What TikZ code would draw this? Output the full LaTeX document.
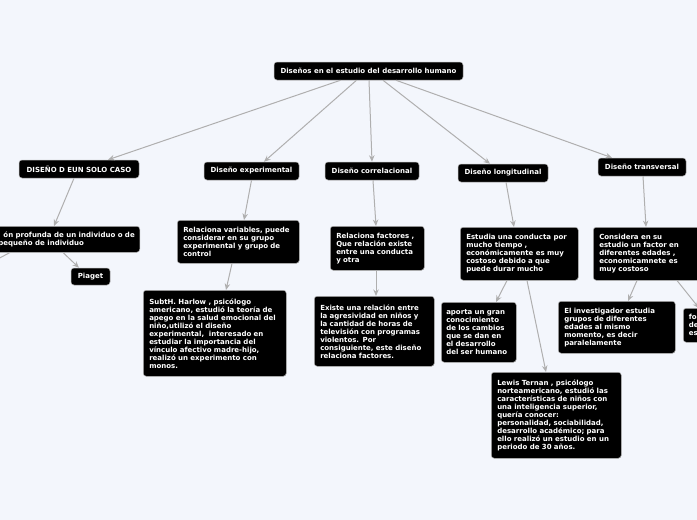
\documentclass[tikz,border=0pt]{standalone}
\usepackage{fontspec}
\setmainfont{DejaVu Sans}
\usetikzlibrary{arrows.meta,calc}
\definecolor{bgc}{RGB}{243,246,252}
\definecolor{linec}{RGB}{175,175,175}
\tikzset{
  box/.style={fill=black, text=white, draw=gray!60, line width=0.5pt, rounded corners=3pt,
    font=\fontsize{7.0}{8.0}\selectfont\bfseries},
  head/.style={box, inner sep=0pt, align=center},
  para/.style={box, anchor=north west, inner xsep=7pt, inner ysep=0pt, align=left},
  conn/.style={draw=linec, line width=1pt, -{Stealth[length=6.5pt,width=5.5pt]}},
  plain/.style={draw=linec, line width=1pt}
}
\begin{document}
\begin{tikzpicture}[x=1pt,y=-1pt]
\useasboundingbox (0,0) rectangle (697,520);
\fill[bgc] (0,0) rectangle (697,520);
\clip (0,0) rectangle (697,520);

% headers
\node[head, minimum width=189pt, minimum height=18pt] (root) at (368.5,71) {Diseños en el estudio del desarrollo humano};
\node[head, minimum width=120pt, minimum height=18pt] (caso) at (79,169) {DISEÑO D EUN SOLO CASO};
\node[head, minimum width=95pt, minimum height=18pt] (exper) at (251.5,171) {Diseño experimental};
\node[head, minimum width=94pt, minimum height=18pt] (correl) at (372,171) {Diseño correlacional};
\node[head, minimum width=90pt, minimum height=18pt] (longi) at (503,173) {Diseño longitudinal};
\node[head, minimum width=88pt, minimum height=18pt] (trans) at (642,167) {Diseño transversal};

% left branch
\node[box, anchor=north east, align=left, inner xsep=5pt, inner ysep=0pt, minimum height=26pt] (inv) at (140,226) {\hspace{40pt}\phantom{p}ón profunda de un individuo o de\\\hspace{40pt}pequeño de individuo};
\node[head, minimum width=39pt, minimum height=17pt] (piaget) at (90.5,276.5) {Piaget};
\coordinate (invoff) at (-6,261);

% experimental
\node[para, minimum width=122pt, minimum height=43pt, text width=110pt, inner xsep=6pt] (relvar) at (177,220) {Relaciona variables, puede\\considerar en su grupo\\experimental y grupo de\\control};
\node[para, minimum width=143pt, minimum height=86pt, text width=131pt, inner xsep=6pt] (harlow) at (143,290) {SubtH. Harlow , psicólogo\\americano, estudió la teoría de\\apego en la salud emocional del\\niño,utilizó el diseño\\experimental,~ interesado en\\estudiar la importancia del\\vínculo afectivo madre-hijo,\\realizó un experimento con\\monos.};

% correlacional
\node[para, minimum width=94pt, minimum height=44pt, text width=82pt, inner xsep=6pt] (relfac) at (330,226) {Relaciona factores ,\\Que relación existe\\entre una conducta\\y otra};
\node[para, minimum width=120pt, minimum height=70pt, text width=108pt, inner xsep=6pt] (existe) at (314,296) {Existe una relación entre\\la agresividad en niños y\\la cantidad de horas de\\televisión con programas\\violentos. Por\\consiguiente, este diseño\\relaciona factores.};

% longitudinal
\node[para, minimum width=118pt, minimum height=53pt, text width=106pt, inner xsep=6pt] (estudia) at (460,227) {Estudia una conducta por\\mucho tiempo ,\\económicamente es muy\\costoso debido a que\\puede durar mucho};
\node[para, minimum width=75pt, minimum height=60pt, text width=65pt, inner xsep=5pt] (aporta) at (441,302) {aporta un gran\\conocimiento\\de los cambios\\que se dan en\\el desarrollo\\del ser humano};
\node[para, minimum width=130pt, minimum height=86pt, text width=118pt, inner xsep=6pt] (lewis) at (491,372) {Lewis Ternan , psicólogo\\norteamericano, estudió las\\características de niños con\\una inteligencia superior,\\quería conocer:\\personalidad, sociabilidad,\\desarrollo académico; para\\ello realizó un estudio en un\\periodo de 30 años.};

% transversal
\node[para, minimum width=112pt, minimum height=53pt, text width=100pt, inner xsep=6pt] (considera) at (593,227) {Considera en su\\estudio un factor en\\diferentes edades ,\\economicamnete es\\muy costoso};
\node[para, minimum width=117pt, minimum height=52pt, text width=105pt, inner xsep=6pt] (investig) at (558,301) {El investigador estudia\\grupos de diferentes\\edades al mismo\\momento, es decir\\paralelamente};
\node[para, minimum width=40pt, minimum height=34pt, text width=29pt, inner xsep=5.5pt] (partial) at (683,308) {fo\\de\\es};

% connectors
\draw[conn] ([xshift=-28pt]root.south) -- ([xshift=29pt]caso.north);
\draw[conn] ([xshift=-12pt]root.south) -- ([xshift=12.5pt]exper.north);
\draw[conn] ([xshift=0.5pt]root.south) -- ([xshift=0pt]correl.north);
\draw[conn] ([xshift=14.5pt]root.south) -- ([xshift=-13pt]longi.north);
\draw[conn] ([xshift=27.5pt]root.south) -- ([xshift=-30pt]trans.north);

\draw[conn] ([xshift=-5pt]caso.south) -- ([xshift=-86pt]inv.north east);
\draw[conn] ([xshift=-77pt]inv.south east) -- ([xshift=-11.5pt]piaget.north);
\draw[plain] ([xshift=-130pt]inv.south east) -- (invoff);

\draw[conn] (exper.south) -- ([xshift=67pt]relvar.north west);
\draw[conn] ([xshift=55pt]relvar.south west) -- ([xshift=83pt]harlow.north west);

\draw[conn] ([xshift=1pt]correl.south) -- ([xshift=46pt]relfac.north west);
\draw[conn] ([xshift=46pt]relfac.south west) -- ([xshift=62pt]existe.north west);

\draw[conn] ([xshift=3pt]longi.south) -- ([xshift=54pt]estudia.north west);
\draw[conn] ([xshift=47pt]estudia.south west) -- ([xshift=55pt]aporta.north west);
\draw[conn] ([xshift=67pt]estudia.south west) -- ([xshift=55pt]lewis.north west);

\draw[conn] ([xshift=1pt]trans.south) -- ([xshift=53pt]considera.north west);
\draw[conn] ([xshift=44pt]considera.south west) -- ([xshift=70pt]investig.north west);
\draw[conn] ([xshift=84pt]considera.south west) -- ([xshift=16pt]partial.north west);
\end{tikzpicture}
\end{document}
